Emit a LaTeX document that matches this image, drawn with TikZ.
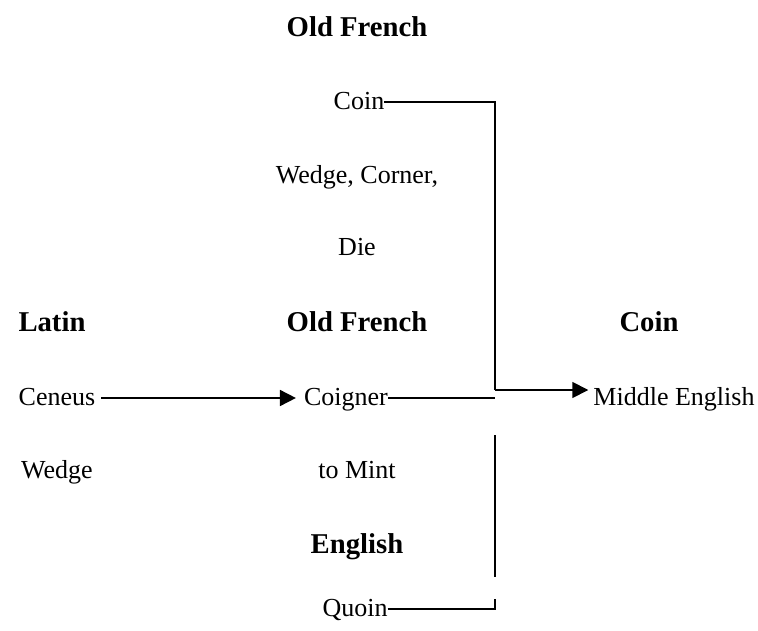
\documentclass[tikz,border=0pt]{standalone}
\usepackage{fontspec}
\setmainfont{Liberation Serif}
\usetikzlibrary{arrows.meta}
\begin{document}
\begin{tikzpicture}[x=1pt,y=-1pt,
  lbl/.style={inner sep=0pt,text height=0.7em,text depth=0.2em,font=\fontsize{26}{30}\selectfont},
  head/.style={inner sep=0pt,text height=0.7em,text depth=0.2em,font=\fontsize{28.7}{33}\selectfont\bfseries},
  link/.style={line width=1.7pt},
  arr/.style={line width=1.7pt,-{Triangle[length=16pt,width=16pt]}}]
\useasboundingbox (0,0) rectangle (758,631);
% headings
\node[head] (ofTop) at (357,34) {Old French};
\node[head] (latin) at (52,329) {Latin};
\node[head] (ofMid) at (357,329) {Old French};
\node[head] (coinH) at (649,329) {Coin};
\node[head] (eng) at (357,551) {English};
% words and glosses
\node[lbl] (coin) at (359,107) {Coin};
\node[lbl] (wcc) at (357,181) {Wedge, Corner,};
\node[lbl] (die) at (357,253) {Die};
\node[lbl] (ceneus) at (57,403) {Ceneus};
\node[lbl] (coigner) at (346,403) {Coigner};
\node[lbl] (mideng) at (674,403) {Middle English};
\node[lbl] (wedge) at (57,476) {Wedge};
\node[lbl] (mint) at (357,476) {to Mint};
\node[lbl] (quoin) at (355,614) {Quoin};
% junction points of the bracket
\coordinate (ct) at (495,102);
\coordinate (j) at (495,390);
\coordinate (cg) at (495,398);
\coordinate (v1) at (495,435);
\coordinate (v2) at (495,577);
\coordinate (qb) at (495,609);
\coordinate (qt) at (495,599);
% connectors
\draw[arr,shorten <=6pt,shorten >=8pt] (ceneus.east |- cg) -- (coigner.west |- cg);
\draw[link] (coin.east |- ct) -- (ct) -- (j);
\draw[arr,shorten >=5pt] (j) -- (mideng.west |- j);
\draw[link] (coigner.east |- cg) -- (cg);
\draw[link] (v1) -- (v2);
\draw[link] (quoin.east |- qb) -- (qb) -- (qt);
\end{tikzpicture}
\end{document}
